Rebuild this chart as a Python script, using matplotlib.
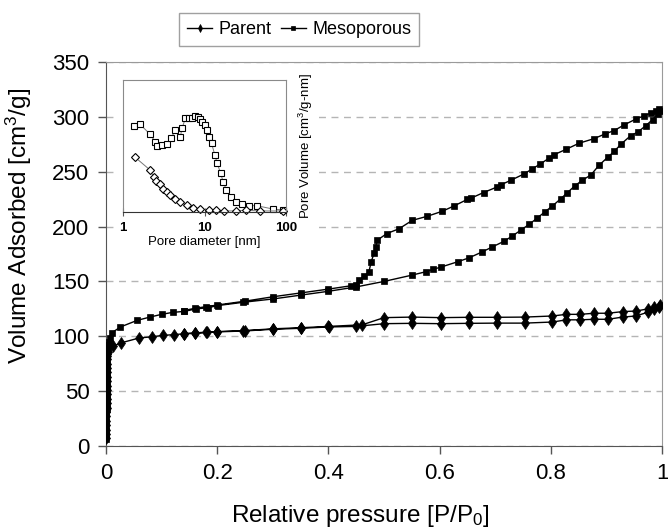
import numpy as np
import matplotlib
matplotlib.use("Agg")
import matplotlib.pyplot as plt
from matplotlib.patches import Rectangle

plt.rcParams['font.family'] = ['Liberation Sans', 'DejaVu Sans']
plt.rcParams['mathtext.fontset'] = 'custom'
plt.rcParams['mathtext.rm'] = 'Liberation Sans'
plt.rcParams['mathtext.it'] = 'Liberation Sans:italic'

# isotherm data (P/P0, cm3/g)
meso_ads_p = [0.0002, 0.0003, 0.0004, 0.0005, 0.0006, 0.0007, 0.0008, 0.0009, 0.001, 0.0011,
              0.0012, 0.0013, 0.0014, 0.0015, 0.0016, 0.0017, 0.0018, 0.0019, 0.002, 0.0022,
              0.0025, 0.003, 0.004, 0.005, 0.007,
              0.01, 0.026, 0.056, 0.079, 0.10, 0.12, 0.141, 0.162, 0.183, 0.201, 0.247,
              0.30, 0.35, 0.40, 0.45, 0.50, 0.55, 0.575, 0.588, 0.602, 0.633, 0.653, 0.677,
              0.695, 0.716, 0.731, 0.746, 0.761, 0.776, 0.789, 0.803, 0.818, 0.83, 0.843,
              0.856, 0.872, 0.887, 0.902, 0.914, 0.926, 0.944, 0.956, 0.971, 0.983, 0.992, 0.997]
meso_ads_v = [6, 10, 14, 18, 22, 26, 30, 34, 38, 42,
              46, 50, 54, 58, 62, 66, 70, 74, 78, 82,
              86, 89, 92, 95, 98,
              103, 108.5, 114.5, 117.5, 120, 121.8, 122.7, 125, 126, 128, 131,
              134, 137.5, 141, 145, 150, 155.7, 158.8, 161, 163, 168, 171.5, 177,
              181.5, 186.6, 191.5, 196.7, 202, 207.9, 213.3, 218.8, 225.4, 231, 237,
              242, 247, 256, 263, 268.5, 275, 283, 286, 292, 297.5, 302.7, 305]

meso_des_p = [0.995, 0.989, 0.98, 0.968, 0.953, 0.932, 0.914, 0.898, 0.877, 0.851,
              0.827, 0.806, 0.797, 0.78, 0.767, 0.752, 0.729, 0.71, 0.703, 0.679,
              0.657, 0.65, 0.626, 0.605, 0.578, 0.551, 0.527, 0.505, 0.488, 0.485,
              0.482, 0.477, 0.473, 0.464, 0.455, 0.449, 0.44, 0.40, 0.35, 0.30,
              0.25, 0.20, 0.18, 0.16, 0.14]
meso_des_v = [307, 305.5, 303.5, 301, 298, 292.7, 287.5, 284.5, 280, 276,
              270.3, 265.5, 262.4, 256.7, 252.7, 248, 242.4, 238, 236, 231,
              226, 224.8, 218.8, 214, 209.4, 205.7, 198, 193.6, 187.6, 181.5,
              175.5, 168, 159, 154.5, 151, 147, 146, 143, 139.5, 136,
              132, 128.5, 127, 125.5, 123.5]

par_ads_p = [0.0002, 0.0003, 0.0004, 0.0005, 0.0006, 0.0007, 0.0008, 0.0009, 0.001, 0.0011,
             0.0012, 0.0013, 0.0014, 0.0015, 0.0016, 0.0017, 0.0018, 0.0019, 0.002, 0.0022,
             0.0025, 0.004,
             0.013, 0.027, 0.06, 0.082, 0.102, 0.122, 0.141, 0.16, 0.181, 0.2, 0.247,
             0.30, 0.351, 0.401, 0.45, 0.5, 0.551, 0.602, 0.652, 0.703, 0.753, 0.803,
             0.828, 0.853, 0.878, 0.903, 0.929, 0.953, 0.975, 0.986, 0.995]
par_ads_v = [7, 11, 15, 19, 23, 27, 31, 35, 39, 43,
             47, 51, 55, 59, 63, 67, 71, 75, 79, 82,
             84, 86,
             91, 94, 98.5, 99.5, 100.8, 101.5, 102.3, 102.6, 103.5, 104, 104.8,
             106.4, 107.3, 108.5, 109, 111.5, 111.8, 111.5, 111.8, 112, 112, 113,
             115, 115, 115.5, 115.5, 117.5, 118.5, 122, 124.5, 127]

par_des_p = [0.997, 0.986, 0.975, 0.953, 0.929, 0.903, 0.878, 0.853, 0.828, 0.803,
             0.753, 0.703, 0.652, 0.602, 0.551, 0.5, 0.461, 0.40, 0.35, 0.30,
             0.25, 0.20, 0.18, 0.16, 0.14]
par_des_v = [128.5, 127, 125, 123, 122.5, 121, 121, 120, 120, 118.5,
             117.5, 117.3, 117.3, 117, 117.5, 117, 110.5, 109, 107.8, 106.8,
             105.2, 104.3, 103.8, 103, 102.5]

# pore size distribution (nm, arbitrary units)
psd_meso_d = [1.37, 1.62, 2.15, 2.48, 2.65, 3.0, 3.46, 3.88, 4.39, 5.05, 5.3, 5.83, 6.41,
              7.05, 7.74, 8.27, 8.93, 9.36, 10.0, 10.8, 11.3, 12.2, 13.4, 14.3, 15.8,
              17.0, 18.6, 20.9, 24.1, 28.6, 35.3, 43.8, 68.4, 92.7]
psd_meso_v = [65.4, 66.4, 58.9, 53.3, 50.2, 50.8, 51.8, 55.8, 62.1, 57.0, 63.4, 71.0, 71.5,
              71.5, 72.7, 72.2, 70.5, 68.4, 65.9, 62.1, 57.0, 52.0, 43.2, 36.9, 29.3,
              22.5, 16.7, 11.6, 7.8, 5.8, 4.8, 4.8, 2.3, 1.5]
psd_par_d = [1.41, 2.15, 2.37, 2.55, 2.81, 3.09, 3.46, 3.8, 4.39, 5.05, 6.1, 7.25, 8.93,
             11.3, 13.7, 17.3, 24.1, 32.1, 48.2, 91.0]
psd_par_v = [41.4, 31.8, 26.8, 23.5, 21.0, 17.4, 14.9, 12.9, 9.8, 7.3, 5.3, 3.3, 2.3,
             1.5, 1.3, 0.8, 0.8, 1.3, 0.8, 0.8]

fig = plt.figure(figsize=(6.68, 5.3), dpi=100)
ax = fig.add_axes([106/668, 1-446/530, 556/668, 384/530])

ax.plot(par_ads_p + par_des_p, par_ads_v + par_des_v, color='black', lw=1,
        marker='d', ms=6.5, mec='black', mfc='black', mew=0.5, label='Parent', zorder=3)
ax.plot(meso_ads_p + meso_des_p, meso_ads_v + meso_des_v, color='black', lw=1,
        marker='s', ms=5, mec='black', mfc='black', mew=0.5, label='Mesoporous', zorder=3)

ax.set_xlim(0, 1)
ax.set_ylim(0, 350)
ax.set_xticks([0, 0.2, 0.4, 0.6, 0.8, 1.0])
ax.set_xticklabels(['0', '0.2', '0.4', '0.6', '0.8', '1'])
ax.set_yticks(np.arange(0, 351, 50))
ax.tick_params(labelsize=16, direction='out', length=6, width=1, color='#555555', pad=6)
ax.yaxis.grid(True, color='#b5b5b5', lw=1, dashes=(5, 4))
ax.set_axisbelow(True)
for s in ['top', 'right']:
    ax.spines[s].set_color('#9a9a9a')
for s in ['left', 'bottom']:
    ax.spines[s].set_color('#555555')
ax.set_xlabel('Relative pressure [P/P$_0$]', fontsize=17.5)
ax.set_ylabel('Volume Adsorbed [cm$^3$/g]', fontsize=17.5)
ax.xaxis.set_label_coords((360-106)/556, -(503-446)/384, transform=ax.transAxes)
ax.yaxis.set_label_coords(-(106-34)/556, (446-226)/384, transform=ax.transAxes)

# white area behind inset and its labels
ax.add_patch(Rectangle((116/668, 1-252/530), (318-116)/668, (252-68)/530,
                       transform=fig.transFigure, facecolor='white', edgecolor='none', zorder=1))

leg = fig.legend(loc='center', bbox_to_anchor=(299/668, 1-29.5/530), ncol=2, fontsize=13,
                 frameon=True, fancybox=False, edgecolor='#888888', markerscale=0.6,
                 handlelength=1.4, handletextpad=0.35, columnspacing=0.5, borderpad=0.45)
leg.get_frame().set_linewidth(1)

# inset
axi = fig.add_axes([123/668, 1-212/530, 163/668, 132/530])
axi.set_zorder(5)
axi.plot(psd_meso_d, psd_meso_v, color='#777777', lw=0.7, marker='s', ms=5,
         mfc='white', mec='black', mew=0.8, clip_on=False)
axi.plot(psd_par_d, psd_par_v, color='#777777', lw=0.7, marker='D', ms=4.2,
         mfc='white', mec='black', mew=0.8, clip_on=False)
axi.set_xscale('log')
axi.set_xlim(1, 100)
axi.set_ylim(0, 100)
axi.set_yticks([])
axi.set_xticks([1, 10, 100])
axi.set_xticklabels(['1', '10', '100'], fontweight='bold')
axi.xaxis.set_minor_locator(matplotlib.ticker.NullLocator())
axi.tick_params(axis='x', labelsize=9.5, direction='inout', length=6, pad=4, color='#555555')
for s in ['top', 'right', 'left']:
    axi.spines[s].set_color('#8a8a8a')
axi.spines['bottom'].set_color('#333333')
axi.set_xlabel('Pore diameter [nm]', fontsize=9.5, labelpad=2)
axi.yaxis.set_label_position('right')
axi.set_ylabel('Pore Volume [cm$^3$/g-nm]', fontsize=9.5, labelpad=8)

fig.savefig('out.png', dpi=100)
